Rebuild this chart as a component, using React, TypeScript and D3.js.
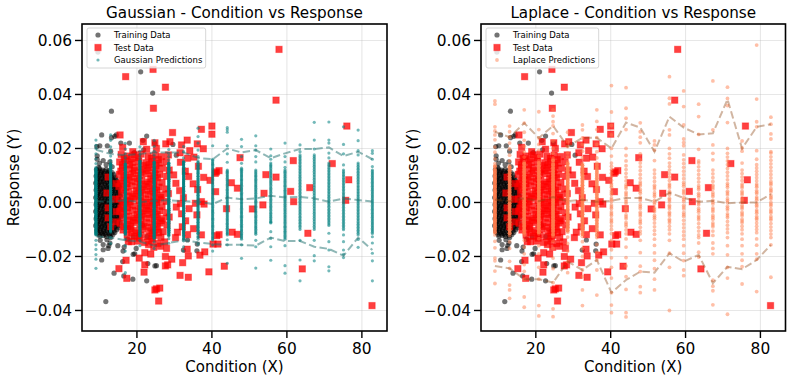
import React from "react";
import * as d3 from "d3";

// Y values are in thousandths (0.02 = 20)
const xTicks = [20, 40, 60, 80];
const yTicks = [-40, -20, 0, 20, 40, 60];
const yTickLabels = ["\u22120.04", "\u22120.02", "0.00", "0.02", "0.04", "0.06"];
const gridX = [9.07, 12.99, 16.9, 20.8, 24.6, 28.5, 32.45, 36.3, 40.2, 44.1, 47.9, 51.7, 55.7, 59.5, 63.5, 67.3, 71.2, 75.1, 79, 82.8];
// how many overlapping draws the dense part of each prediction column has
const denseLayers = [3, 3, 3, 3, 3, 3, 3, 2, 1, 1, 1, 1, 1, 1, 1, 1, 1, 1, 1, 1];

const trainingOutliers: number[][] = [
  [9.6,55.7],[21,48.4],[24.2,40.5],[13.2,33.8],[10.6,25],[13.2,24],[14.1,24.5],[14.5,25],[22.6,24.6],[9.3,20.7],[10.1,21],[12.1,21],[15.7,22],[18,22],[21.6,23],[24.7,22],[21.8,19.5],[29.6,21.5],[30.5,17.5],[9.4,17.3],[9.4,16],[11,15.5],[12.8,15],[10,14.5],[19.3,18.5],[13,19],[11.8,14],[13.4,13.2],[9.8,13],
  [11.7,-36.7],[13.9,-26.2],[16.5,-27.2],[18.9,-28.4],[22.6,-29],[24.8,-23.5],[25.2,-23.4],[22.9,-22.6],[16.2,-21.9],[10.6,-21.3],[19.4,-19],[19,-19.2],[19.8,-17],[16.3,-18],[16.6,-16.5],[14.9,-16],[12.3,-17],[11,-17.5],[12.8,-15],[12,-13.8],[10.2,-14],[11,-15.6],[33.5,-13.9],[36.1,-15.4],[32.4,-17.6],[12.5,-16],[13,-13],[17.5,-13.6],[36,-17.9]
];
const trainingBlob: number[][] = [
  [9.2,12.2],[10,12.5],[10.9,12],[11.8,12.3],[12.6,11.8],[9.5,11],[10.4,11.2],[11.2,10.8],[12.1,10.9],[13,10.6],[13.9,10.3],[9.1,9.8],[9.9,9.6],[10.7,9.9],[11.6,9.5],[12.5,9.7],[13.3,9.2],[14.2,9.4],
  [9.4,8.4],[10.2,8.6],[11.1,8.2],[12,8.5],[12.8,8.1],[13.7,8.3],[14.6,8],[9,7.2],[9.8,7],[10.6,7.3],[11.5,6.9],[12.4,7.2],[13.2,6.8],[14.1,7],[15,6.9],[9.3,5.8],[10.1,5.9],[11,5.6],[11.9,5.9],[12.7,5.5],[13.6,5.8],[14.5,5.5],[15.3,5.7],
  [9.1,4.6],[9.9,4.3],[10.8,4.6],[11.6,4.2],[12.5,4.5],[13.4,4.2],[14.2,4.5],[15.1,4.2],[9.5,3],[10.3,3.3],[11.2,2.9],[12.1,3.2],[12.9,2.9],[13.8,3.2],[14.7,2.9],[15.5,3.1],[9,1.8],[9.8,2],[10.7,1.6],[11.5,1.9],[12.4,1.6],[13.2,1.9],[14.1,1.6],[15,1.8],
  [9.4,.5],[10.2,.7],[11.1,.3],[12,.6],[12.8,.3],[13.7,.6],[14.6,.3],[15.4,.5],[9.1,-.8],[9.9,-.6],[10.8,-1],[11.6,-.7],[12.5,-1],[13.4,-.7],[14.2,-1],[15.1,-.7],[9.5,-2],[10.3,-1.9],[11.2,-2.3],[12.1,-2],[12.9,-2.3],[13.8,-2],[14.7,-2.3],[15.5,-2.1],
  [9,-3.3],[9.8,-3.2],[10.7,-3.6],[11.5,-3.3],[12.4,-3.6],[13.2,-3.3],[14.1,-3.6],[15,-3.3],[9.4,-4.7],[10.2,-4.5],[11.1,-4.9],[12,-4.6],[12.8,-4.9],[13.7,-4.6],[14.6,-4.9],[15.4,-4.7],[9.1,-6],[9.9,-5.8],[10.8,-6.2],[11.6,-5.9],[12.5,-6.2],[13.4,-5.9],[14.2,-6.2],[15.1,-6],
  [9.5,-7.3],[10.3,-7.1],[11.2,-7.5],[12.1,-7.2],[12.9,-7.5],[13.8,-7.2],[14.7,-7.5],[15.5,-7.3],[9,-8.6],[9.8,-8.4],[10.7,-8.8],[11.5,-8.5],[12.4,-8.8],[13.2,-8.5],[14.1,-8.8],[15,-8.6],[9.4,-9.9],[10.2,-9.7],[11.1,-10.1],[12,-9.8],[12.8,-10.1],[13.7,-9.8],[14.6,-10.1],
  [9.6,-11.2],[10.5,-11],[11.4,-11.4],[12.3,-11.1],[13.2,-11.4],[14.1,-11.1],[10.1,-12.4],[11,-12.2],[11.9,-12.6],[12.8,-12.3],[21.5,-8.5],[20.6,-11.8],[22.7,-12.6],[24.2,-10.4],[19,-12.7],[17.9,-9.3]
];
const trainingBlobExtra: number[][] = [
  [9.7,11.7],[10.6,11.6],[11.5,11.5],[12.4,11.2],[13.4,11.1],[9.4,10.3],[10.3,10.4],[11.2,10.1],[12.2,10.2],[13.1,9.9],[9.6,8.9],[10.6,8.9],[11.5,8.8],[12.5,8.9],[13.5,8.6],[14.4,8.7],
  [9.3,7.7],[10.2,7.7],[11.1,7.6],[12,7.7],[13,7.5],[13.9,7.6],[14.8,7.4],[9.6,6.4],[10.5,6.5],[11.5,6.3],[12.4,6.4],[13.3,6.3],[14.2,6.2],[15.2,6.3],[9.4,5.1],[10.4,5.2],[11.3,5],[12.2,5.1],[13.1,5],[14,5],[15,4.9],
  [9.6,3.8],[10.5,3.9],[11.5,3.6],[12.3,3.8],[13.3,3.6],[14.2,3.8],[15.1,3.6],[9.3,2.5],[10.2,2.6],[11.1,2.4],[12,2.5],[13,2.4],[13.9,2.5],[14.8,2.3],[15.6,2.4],[9.6,1.2],[10.5,1.2],[11.4,1],[12.3,1.2],[13.2,1.1],[14.1,1],[15.2,1.1],
  [9.3,-.1],[10.2,0],[11.2,-.3],[12,-.1],[13,-.3],[13.9,-.1],[14.8,-.3],[15.6,-.1],[9.6,-1.4],[10.5,-1.3],[11.4,-1.6],[12.3,-1.4],[13.2,-1.6],[14.1,-1.4],[15,-1.6],[9.3,-2.7],[10.2,-2.6],[11.1,-2.9],[12,-2.7],[13,-2.9],[13.9,-2.7],[14.8,-2.9],[15.7,-2.7],
  [9.6,-4],[10.5,-3.9],[11.4,-4.2],[12.3,-4],[13.2,-4.2],[14.1,-4],[15,-4.2],[9.3,-5.3],[10.2,-5.2],[11.1,-5.5],[12,-5.3],[13,-5.5],[13.9,-5.3],[14.8,-5.5],[15.7,-5.3],[9.6,-6.7],[10.5,-6.5],[11.4,-6.8],[12.3,-6.6],[13.2,-6.8],[14.1,-6.6],[15,-6.8],
  [9.3,-8],[10.2,-7.8],[11.1,-8.1],[12,-7.9],[13,-8.1],[13.9,-7.9],[14.8,-8.1],[9.6,-9.2],[10.5,-9.1],[11.4,-9.4],[12.3,-9.2],[13.2,-9.4],[14.1,-9.2],[15,-9.4],[9.3,-10.5],[10.2,-10.4],[11.1,-10.7],[12,-10.5],[13,-10.7],[13.9,-10.5],[9.9,-11.8],[10.8,-11.6],[11.7,-11.9],[12.7,-11.7],[13.6,-11.9]
];
const testOutliers: number[][] = [
  [57.9,56.7],[57.1,37.9],[24.3,49.3],[17,46.6],[27.6,42.7],[24.4,34.9],[37.2,27.1],[40,28.3],[40,25.3],[37.7,19.9],[76,28.3],[47.5,16.6],[61.7,15.5],[72.1,14.4],[76.5,8.4],[57.1,9.4],[54.4,10.3],[41.9,11.8],[41.2,11.3],[40.9,10.8],[39.5,8.2],[45.2,7.3],[46.8,5.3],[41,4],[53.9,3.4],[61,4.1],[66.1,5.5],[75.7,.8],[61.8,.3],[53.6,-.9],[50.8,-2.4],[43.9,-2.3],[37.2,.3],[37.9,-.6],[65.6,-11.4],[45.4,-11],[46.8,-11.8],[41.9,-11.9],[41.3,-12.3],[37.2,-12],[41.6,-15.4],[40.3,-15.4],[38.1,-18.3],[36.8,-19.5],[39.2,-25.7],[43.3,-23.6],[64.1,-24.6],[82.7,-38.2],
  [15.2,-24.5],[17.1,-21.4],[17.3,-28.1],[21.9,-25.8],[22.1,-23.1],[24.8,-32.4],[25.2,-32],[26.1,-31.7],[25.8,-36.5],[31.5,-27],[33.7,-27.7],[27.6,-23.5],[28.2,-23.1],[29.3,-21],[27.6,-20],[32.2,-22.3],[33.7,-19.8],[33.4,-17.3],[27.9,-17],[20.6,-20.6],[22.1,-18.6],[23.7,-19.1],[18.6,-14.5],[17.7,-14.5],
  [15.5,25],[29.5,25.9],[21.7,22.5],[24.8,22.1],[28.8,22.5],[27.7,21.7],[31.9,21.3],[33.4,23.1],[36.1,21.7],[16.2,20.4],[18.9,18.8],[22.6,19.7],[25.2,20],[31.5,18.4],[34.1,19.2],[33.5,16.4],
  [12.3,9.4],[12,3.5],[12.3,-2],[12.3,-5.7],[13,-9],[14.4,7],[14.2,1.2],[14.5,-3.4],[14.3,-7.2]
];
const testBlock: number[][] = [
  [15.8,17.8],[17.4,17.2],[19.3,17.6],[21.1,17.9],[23,17.1],[24.9,17.5],[26.6,17],[28.4,17.6],[35.2,16.8],
  [15.4,15],[17,15.4],[18.8,14.8],[20.5,15.3],[22.4,14.7],[24.1,15.2],[26,14.6],[27.8,15.1],[31.6,14.9],[36.4,13.4],
  [16.1,12.8],[17.9,12.4],[19.6,13],[21.4,12.3],[23.2,12.9],[25,12.2],[26.8,12.7],[28.6,12],[32.9,11.6],
  [15.3,10.4],[17.1,10.1],[18.9,10.7],[20.7,10],[22.5,10.6],[24.3,9.9],[26.1,10.4],[27.9,9.7],[29.8,10.2],[33.8,9.6],[37.8,9.3],
  [16,8],[17.8,8.3],[19.5,7.7],[21.3,8.2],[23.1,7.6],[24.9,8.1],[26.7,7.4],[30.4,7.1],[35,6.9],
  [15.2,5.9],[17,5.6],[18.7,6.1],[20.5,5.4],[22.3,5.9],[24.1,5.2],[25.9,5.7],[27.7,5],[31.4,4.4],[36.2,4.8],
  [15.9,3.4],[17.7,3.9],[19.4,3.2],[21.2,3.7],[23,3],[24.8,3.5],[26.6,2.8],[28.4,3.3],[32.4,1.8],
  [15.3,1.3],[17.1,.9],[18.8,1.5],[20.6,.8],[22.4,1.3],[24.2,.6],[26,1.1],[27.8,.4],[31.6,-.4],[35.6,-.3],
  [16,-1],[17.8,-.7],[19.5,-1.3],[21.3,-.7],[23.1,-1.3],[24.9,-.8],[26.7,-1.5],[30.5,-1.7],[33.9,-2.3],
  [15.4,-3.2],[17.2,-3.4],[18.9,-2.9],[20.7,-3.5],[22.5,-3],[24.3,-3.6],[26.1,-3.1],[27.9,-3.8],[31.9,-4.2],[36,-4.6],
  [16.1,-5.5],[17.9,-5.1],[19.6,-5.7],[21.4,-5.1],[23.2,-5.8],[25,-5.3],[26.8,-6],[28.6,-5.4],[33,-6.8],
  [15.5,-7.7],[17.3,-8],[19,-7.4],[20.8,-8],[22.6,-7.5],[24.4,-8.1],[26.2,-7.6],[28,-8.3],[32.1,-9],[35.1,-9.7],
  [16.3,-10.2],[18.1,-9.8],[19.8,-10.4],[21.6,-9.9],[23.4,-10.5],[25.2,-10],[27,-10.8],[30.8,-11],[33.5,-11.9],
  [17.4,-12.1],[19.3,-12.5],[21,-12.1],[22.8,-12.7],[24.6,-12.2],[26.4,-12.9],[30.3,-13],
  [20.2,-14.3],[22,-14.8],[23.8,-14.3],[25.6,-15.2],[27.4,-14.6],[24.5,-16.6],[26.3,-16.2]
];
const testBlockExtra: number[][] = [
  [16.6,16.3],[18.5,16.2],[20.3,16.6],[23.9,16.4],[25.7,15.9],
  [16.2,14],[18,13.9],[21.6,13.7],[23.3,14],[25.1,13.6],
  [15.7,11.6],[19.3,11.8],[21.1,11.2],[22.9,11.7],[24.7,11],
  [16.5,9.2],[18.3,9.4],[20.1,8.9],[23.7,8.8],[25.5,9.2],
  [15.6,7],[17.4,6.9],[20.9,6.8],[22.7,6.8],[24.5,6.6],
  [16.3,4.6],[19.9,4.4],[21.7,4.6],[23.5,4.2],[25.3,4.6],
  [17.4,2.4],[19.1,2.2],[20.9,2.3],[24.5,2.1],[26.3,1.9],
  [16.4,.1],[18.2,.3],[21.7,.1],[23.5,.1],[25.3,0],
  [15.7,-2.1],[17.5,-2],[21,-2.1],[22.8,-2.2],[24.6,-2.2],
  [16.4,-4.3],[20,-4.4],[21.8,-4.3],[23.6,-4.4],[25.4,-4.4],
  [17.6,-6.5],[19.3,-6.6],[21.1,-6.5],[24.7,-6.7],[26.5,-6.8],
  [16.6,-9],[18.4,-8.8],[21.9,-8.9],[23.7,-9.2],[25.5,-9],
  [18.6,-11.2],[20.4,-11.3],[24,-11.5],[25.8,-11.2],
  [20.6,-13.2],[24.2,-13.3],[23.1,-15.6]
];

const gaussianColumns: number[][] = [
  [23.1,21.2,20,18,16.2,14.4,13,12,11.2,10.5,9.8,9,8.3,7.5,6.8,6,5.2,4.5,3.8,3,2.3,1.5,.8,0,-.8,-1.5,-2.3,-3,-3.8,-4.5,-5.3,-6,-6.8,-7.6,-8.3,-9,-9.8,-10.6,-11.4,-12,-14,-15.7,-17.4,-19.3,-21,-24.4],
  [25,23,20.6,19,17.2,15.6,14.6,13.8,13,12.2,11.4,10.6,9.9,9.1,8.3,7.6,6.8,6.1,5.3,4.6,3.8,3,2.3,1.5,.7,0,-.8,-1.6,-2.3,-3.1,-3.9,-4.6,-5.4,-6.2,-7,-7.7,-8.5,-9.3,-10.1,-11,-13,-15.2],
  [21.9,19.8,18,16.6,15.4,14.5,13.7,12.9,12.1,11.4,10.6,9.8,9,8.2,7.5,6.7,6,5.2,4.4,3.6,2.9,2.1,1.3,.6,-.2,-1,-1.8,-2.5,-3.3,-4.1,-4.9,-5.6,-6.4,-7.2,-8,-8.8,-9.5,-10.3,-11.1,-12,-13.6,-15.9,-18,-26],
  [20.6,19,17.7,16.6,15.6,14.8,14,13.2,12.4,11.6,10.8,10,9.2,8.5,7.7,6.9,6.1,5.4,4.6,3.8,3,2.3,1.5,.7,-.1,-.9,-1.6,-2.4,-3.2,-4,-4.7,-5.5,-6.3,-7.1,-7.9,-8.6,-9.4,-10.2,-11,-11.8,-12.6,-14,-16],
  [23,20.8,19,17.5,16.2,15.2,14.4,13.6,12.8,12,11.2,10.4,9.6,8.8,8,7.2,6.5,5.7,4.9,4.1,3.3,2.5,1.8,1,.2,-.6,-1.4,-2.2,-2.9,-3.7,-4.5,-5.3,-6.1,-6.9,-7.7,-8.5,-9.3,-10.1,-10.9,-11.7,-12.5,-13.4,-14.6,-17],
  [19.6,18.2,17,15.8,14.8,14,13.2,12.3,11.5,10.6,9.8,9,8.2,7.4,6.5,5.7,4.9,4.1,3.2,2.4,1.6,.8,0,-.9,-1.7,-2.5,-3.3,-4.1,-5,-5.8,-6.6,-7.4,-8.2,-9.1,-9.9,-10.7,-11.5,-12.4,-13.4,-15.1],
  [20.7,18.8,16.5,15.3,14.4,13.5,12.6,11.7,10.8,9.9,9,8.1,7.2,6.3,5.4,4.5,3.6,2.7,1.8,.9,0,-.9,-1.8,-2.7,-3.6,-4.5,-5.4,-6.3,-7.2,-8.1,-9,-9.9,-10.8,-11.7,-12.8,-14.2,-16.4,-18],
  [27.5,24.4,22,19.4,17,15.4,14.2,13.2,12.2,11.2,10.2,9.2,8.2,7.2,6.2,5.2,4.2,3.2,2.2,1.2,.2,-.8,-1.8,-2.8,-3.8,-4.8,-5.8,-6.8,-7.8,-8.8,-9.8,-10.8,-12,-13.6,-15.4],
  [21,16,15.6,14.6,13.8,12.8,12,11.1,10.2,9.4,8.5,7.6,6.8,5.9,5,4.2,3.3,2.4,1.6,.7,-.2,-1,-1.9,-2.8,-3.6,-4.5,-5.4,-6.2,-7.1,-8,-8.8,-9.7,-10.6,-11.4,-12.3,-13.2,-13.9,-15.7,-18],
  [27.7,26.9,26,21,18,14.9,12,11.2,10.3,9.4,8.5,7.6,6.7,5.8,4.9,4,3.1,2.2,1.3,.4,-.5,-1.4,-2.3,-3.2,-4.1,-5,-5.9,-6.8,-7.7,-8.6,-9.5,-10.4,-11.3,-12,-13.8,-15.7,-22.5],
  [23.4,20.7,17,14.5,12.7,11.9,11.1,10.2,9.4,8.5,7.7,6.8,6,5.1,4.3,3.4,2.6,1.7,.9,0,-.8,-1.7,-2.5,-3.4,-4.2,-5.1,-5.9,-6.8,-7.6,-8.5,-9.3,-10.2,-11,-11.9,-12.7,-13.6,-15.7,-20.7],
  [24.7,21,19.4,17,15,12,11,10,9.1,8.1,7.2,6.2,5.3,4.3,3.4,2.4,1.5,.5,-.4,-1.4,-2.3,-3.3,-4.2,-5.2,-6.1,-7.1,-8,-9,-9.9,-10.9,-11.8,-14,-16.4,-24.3],
  [19.8,17.3,16,14.6,13.6,12.6,11.5,10.5,9.5,8.4,7.4,6.4,5.3,4.3,3.3,2.2,1.2,.2,-.9,-1.9,-2.9,-4,-5,-6,-7,-7.6,-10.8,-13.3,-16.4,-21.4],
  [22,17,15,13,12.1,11.2,10.2,9.3,8.3,7.4,6.4,5.5,4.5,3.6,2.6,1.7,.7,-.2,-1.2,-2.1,-3.1,-4,-5,-5.9,-6.9,-7.8,-8.8,-9.7,-10.7,-11.6,-12.6,-13.6,-16,-23.4,-26.2],
  [21.3,18.8,17.6,16.5,15.4,14.3,13.2,12.1,11,9.9,8.8,7.7,6.6,5.5,4.4,3.3,2.2,1.1,0,-1.1,-2.2,-3.3,-4.4,-5.5,-6.6,-7.7,-8.8,-10,-14,-21.3,-29],
  [29.7,23.1,19.8,17.6,16.4,15.2,14,12.8,11.6,10.4,9.2,8,6.8,5.6,4.4,3.2,2,.8,-.4,-1.6,-2.8,-4,-5.2,-6.4,-7.6,-8.8,-10,-14,-19.7,-21.6],
  [29.8,23.1,22,18.3,16.5,14.6,13.5,12.4,11.3,10.2,9.1,8,6.9,5.8,4.7,3.6,2.5,1.4,.3,-.8,-1.9,-3,-4.1,-5.2,-6.3,-7.4,-8.5,-11.4,-14.5,-17.6,-23.8,-25.3],
  [28,21.5,18,13.9,12,10.9,9.8,8.7,7.6,6.5,5.4,4.3,3.2,2.1,1,-.1,-1.2,-2.3,-3.4,-4.5,-5.6,-6.7,-7.8,-8.9,-10.1,-12,-14.5,-17.6,-19.2,-20.4],
  [26.8,22.9,19.2,17.6,14.6,13.4,12.3,11.2,10.1,9,7.9,6.8,5.7,4.6,3.5,2.4,1.3,.2,-.9,-2,-3.1,-4.2,-5.3,-6.4,-7.5,-8.6,-9.7,-10.8,-12,-13.7,-16.6],
  [19.2,18.2,16,13.3,12,11,10,9,8,7,6,5,4,3,2,1,0,-1,-2,-3,-4,-5,-6,-7,-8,-9,-10,-11,-12.7,-15,-18.8,-21.6,-29]
];
const gaussianFill: number[][] = [
  [12.4,11.6,10.9,10.2,9.4,8.7,7.9,7.2,6.4,5.6,4.9,4.1,3.4,2.6,1.9,1.1,.4,-.4,-1.1,-1.9,-2.6,-3.4,-4.1,-4.9,-5.6,-6.4,-7.2,-8,-8.7,-9.4,-10.2,-11,-11.7],
  [14.2,13.4,12.6,11.8,11,10.3,9.5,8.7,8,7.2,6.5,5.7,4.9,4.2,3.4,2.7,1.9,1.1,.3,-.4,-1.2,-2,-2.7,-3.5,-4.3,-5,-5.8,-6.6,-7.4,-8.1,-8.9,-9.7,-10.5],
  [14.1,13.3,12.5,11.8,11,10.2,9.4,8.6,7.9,7.1,6.4,5.6,4.8,4,3.3,2.5,1.7,1,.2,-.6,-1.4,-2.1,-2.9,-3.7,-4.5,-5.2,-6,-6.8,-7.6,-8.4,-9.1,-9.9,-10.7,-11.5],
  [15.2,14.4,13.6,12.8,12,11.2,10.4,9.6,8.9,8.1,7.3,6.5,5.8,5,4.2,3.4,2.7,1.9,1.1,.3,-.5,-1.2,-2,-2.8,-3.6,-4.3,-5.1,-5.9,-6.7,-7.5,-8.2,-9,-9.8,-10.6,-11.4,-12.2],
  [14.8,14,13.2,12.4,11.6,10.8,10,9.2,8.4,7.6,6.9,6.1,5.3,4.5,3.7,2.9,2.2,1.4,.6,-.2,-1,-1.8,-2.5,-3.3,-4.1,-4.9,-5.7,-6.5,-7.3,-8.1,-8.9,-9.7,-10.5,-11.3,-12.1,-13],
  [14.4,13.6,12.7,11.9,11,10.2,9.4,8.6,7.8,6.9,6.1,5.3,4.5,3.6,2.8,2,1.2,.4,-.5,-1.3,-2.1,-2.9,-3.7,-4.6,-5.4,-6.2,-7,-7.8,-8.7,-9.5,-10.3,-11.1,-12],
  [14.9,14,13,12.2,11.2,10.4,9.5,8.6,7.7,6.8,5.9,5,4.1,3.2,2.3,1.4,.5,-.4,-1.3,-2.2,-3.1,-4,-4.9,-5.8,-6.7,-7.6,-8.5,-9.4,-10.3,-11.2,-12.2,-13.4],
  [14.8,13.7,12.7,11.7,10.7,9.7,8.7,7.7,6.7,5.7,4.7,3.7,2.7,1.7,.7,-.3,-1.3,-2.3,-3.3,-4.3,-5.3,-6.3,-7.3,-8.3,-9.3,-10.3,-11.4,-12.8],
  [15.1,14.2,13.3,12.4,11.5,10.6,9.8,8.9,8.1,7.2,6.4,5.5,4.6,3.7,2.9,2,1.2,.3,-.6,-1.5,-2.4,-3.2,-4,-4.9,-5.8,-6.6,-7.5,-8.4,-9.2,-10.1,-11,-11.8,-12.7,-13.5],
  [11.6,10.8,9.9,9,8.1,7.2,6.3,5.4,4.5,3.6,2.7,1.8,.9,0,-.9,-1.8,-2.7,-3.6,-4.5,-5.4,-6.3,-7.2,-8.1,-9,-9.9,-10.8,-11.6],
  [12.3,11.5,10.6,9.8,8.9,8.1,7.2,6.4,5.5,4.7,3.8,3,2.1,1.3,.4,-.4,-1.3,-2.1,-3,-3.8,-4.7,-5.5,-6.4,-7.2,-8.1,-8.9,-9.8,-10.6,-11.5,-12.3,-13.2],
  [11.5,10.5,9.6,8.6,7.7,6.7,5.8,4.8,3.9,2.9,2,1,.1,-.9,-1.8,-2.8,-3.7,-4.7,-5.6,-6.6,-7.5,-8.5,-9.4,-10.4,-11.3],
  [14,13.1,12,11,10,9,7.9,6.9,5.8,4.8,3.8,2.7,1.7,.7,-.4,-1.4,-2.4,-3.5,-4.5,-5.5,-6.5,-7.3],
  [11.6,10.7,9.8,8.8,7.9,6.9,6,5,4.1,3.1,2.2,1.2,.3,-.7,-1.6,-2.6,-3.5,-4.5,-5.4,-6.4,-7.3,-8.3,-9.2,-10.2,-11.1,-12.1,-13.1],
  [17,15.9,14.8,13.7,12.6,11.5,10.4,9.3,8.2,7.1,6,4.9,3.8,2.7,1.6,.5,-.6,-1.7,-2.8,-3.9,-5,-6.1,-7.2,-8.3,-9.4],
  [17,15.8,14.6,13.4,12.2,11,9.8,8.6,7.4,6.2,5,3.8,2.6,1.4,.2,-1,-2.2,-3.4,-4.6,-5.8,-7,-8.2,-9.4],
  [14,12.9,11.8,10.7,9.6,8.5,7.4,6.3,5.2,4.1,3,1.9,.8,-.3,-1.4,-2.5,-3.6,-4.7,-5.8,-6.9,-8],
  [11.4,10.3,9.2,8.1,7,5.9,4.8,3.7,2.6,1.5,.4,-.7,-1.8,-2.9,-4,-5.1,-6.2,-7.3,-8.4,-9.5],
  [14,12.8,11.7,10.6,9.5,8.4,7.3,6.2,5.1,4,2.9,1.8,.7,-.4,-1.5,-2.6,-3.7,-4.8,-5.9,-7,-8.1,-9.2,-10.3,-11.4],
  [11.5,10.5,9.5,8.5,7.5,6.5,5.5,4.5,3.5,2.5,1.5,.5,-.5,-1.5,-2.5,-3.5,-4.5,-5.5,-6.5,-7.5,-8.5,-9.5,-10.5,-11.5]
];
const gaussianUpper = [19.5, 18, 17.5, 18, 18.5, 18.5, 18.5, 16.5, 16, 20, 18.5, 19.4, 16.4, 18.2, 19.8, 19.8, 20.4, 17.2, 18.8, 16];
const gaussianMiddle = [.5, .3, .8, .2, .6, .8, .5, .3, -.6, 1.8, 1.2, 1.5, 2.5, 1.8, 2.1, 1.5, .3, 1.5, .9, .4];
const gaussianLower = [-12.5, -13, -14, -14.5, -16, -15, -14, -14.8, -15.4, -15.7, -15.7, -16, -13, -14.3, -14.3, -16.4, -17.2, -19.7, -13, -17.6];

const laplaceColumns: number[][] = [
  [37.6,36.4,28,26.5,25,23.2,20.5,18.6,16.2,14.4,12.5,11.5,10.5,9.6,8.7,7.8,6.9,6,5,4.2,3.3,2.4,1.5,.6,-.3,-1.2,-2.1,-3,-3.9,-4.8,-5.7,-6.6,-7.5,-8.4,-9.3,-10.3,-12,-14.4,-16.8,-20.6,-21.6,-25.4,-30],
  [28.3,26.2,24.2,22,19.8,17.5,15.4,13.6,12.4,11.2,10.2,9.2,8.2,7.2,6.2,5.2,4.2,3.2,2.2,1.2,.2,-.8,-1.8,-2.8,-3.8,-4.8,-5.8,-6.8,-7.8,-8.8,-9.8,-10.8,-12.2,-14.6,-17,-21.8,-24.4,-30.6,-32.4,-35.5],
  [34.3,29.4,26,23,20.8,18.7,16.8,15,13.8,12.7,11.6,10.6,9.6,8.6,7.6,6.6,5.6,4.6,3.6,2.6,1.6,.6,-.4,-1.4,-2.4,-3.4,-4.4,-5.4,-6.4,-7.4,-8.4,-9.4,-10.5,-12,-14,-16.5,-19,-23,-25.5,-28.4,-35,-38.8],
  [33.6,27,23.9,21.5,19.3,17.2,15.4,14,12.8,11.6,10.6,9.6,8.6,7.6,6.6,5.6,4.6,3.6,2.6,1.6,.6,-.4,-1.4,-2.4,-3.4,-4.4,-5.4,-6.4,-7.4,-8.4,-9.4,-10.4,-11.6,-13.4,-16,-19,-24,-28.4,-38.2,-42],
  [34.3,32,29.9,28.4,25.5,22.8,20,18.2,16.4,14.8,13.4,12.2,11.1,10,9,8,7,6,5,4,3,2,1,0,-1,-2,-3,-4,-5,-6,-7,-8,-9,-10,-11.2,-12.6,-14.4,-17,-20.6,-24.5,-29.7,-39.4,-42.3],
  [26,22.5,20.7,18.4,16.8,15,13.6,12.4,11.2,10,8.9,7.8,6.7,5.6,4.5,3.4,2.3,1.2,.1,-1,-2.1,-3.2,-4.3,-5.4,-6.5,-7.6,-8.7,-9.8,-11,-12.8,-15.2,-18,-21.9,-26],
  [28.7,26.9,23.9,21.5,19,16.5,14.4,13,11.8,10.6,9.4,8.2,7,5.8,4.6,3.4,2.2,1,-.2,-1.4,-2.6,-3.8,-5,-6.2,-7.4,-8.6,-9.8,-11,-12.5,-14.5,-17,-20,-25,-27.5,-32.4,-38.2],
  [34.3,30,27,24,21.5,18.8,16.5,14.6,13.2,12,10.8,9.6,8.4,7.2,6,4.8,3.6,2.4,1.2,0,-1.2,-2.4,-3.6,-4.8,-6,-7.2,-8.4,-9.6,-11,-13,-15.6,-18.5,-21.3,-25,-34.3],
  [43.3,33.5,28.5,25,20,17.2,14.6,13.4,12.1,10.8,9.5,8.2,6.9,5.6,4.3,3,1.7,.4,-.9,-2.2,-3.5,-4.8,-6.1,-7.4,-8.7,-10,-11.5,-14,-17.5,-20.5,-24,-28,-33.4,-38,-40.8],
  [42.5,34.9,31.2,27,20,17.4,15.4,13.6,12.2,10.8,9.4,8,6.6,5.2,3.8,2.4,1,-.4,-1.8,-3.2,-4.6,-6,-7.4,-8.8,-10.2,-11.6,-13.5,-16.5,-20.4,-23.5,-27.5,-32.2,-40.8,-42.4],
  [29.5,26.2,24.2,22.1,18,15.8,14.6,13.2,11.8,10.4,9,7.6,6.2,4.8,3.4,2,.6,-.8,-2.2,-3.6,-5,-6.4,-7.8,-9.2,-10.6,-11.6,-14,-18.6,-23.6,-25.6,-31.2,-33.4],
  [22.8,21.3,19.4,15.5,12,10.6,9.2,7.8,6.4,5,3.6,2.2,.8,-.6,-2,-3.4,-4.8,-6.2,-7.6,-9,-10.4,-11.8,-13.6,-15.9,-18.7,-21.4,-24.5,-28.4,-32.4],
  [46.6,38.6,36.5,26.9,25,20,18,16.4,14.6,13.3,12,10.7,9.4,8.1,6.8,5.5,4.2,2.9,1.6,.3,-1,-2.3,-3.6,-4.9,-6.2,-7.5,-8.8,-10.1,-11.6,-14,-18.8,-24,-40],
  [41.3,35.5,28.7,23.5,22.2,21,17.6,15.8,14.4,13,11.6,10.2,8.8,7.4,6,4.6,3.2,1.8,.4,-1,-2.4,-3.8,-5.2,-6.6,-8,-9.4,-10.8,-12.2,-13.6,-16,-18.8,-21.5,-25,-27.1],
  [36.4,31.8,25.2,19.7,15.4,14.6,13.2,11.8,10.4,9,7.6,6.2,4.8,3.4,2,.6,-.8,-2.2,-3.6,-5,-6.4,-7.8,-9.2,-10.6,-12,-13,-15,-18.4,-20.2],
  [45,26.9,21.3,18.2,15.8,12,10.6,9.2,7.8,6.4,5,3.6,2.2,.8,-.6,-2,-3.4,-4.8,-6.2,-7.6,-9,-10.6,-12.2,-15,-17,-19,-28.8,-31,-32.7,-37.9],
  [42.7,38.5,35.9,29.6,20,18.2,16.8,15.4,14,12.6,11.2,9.8,8.4,7,5.6,4.2,2.8,1.4,0,-1.4,-2.8,-4.2,-5.6,-7,-8.4,-9.8,-11.2,-13,-16,-19.4,-24,-28,-41.4],
  [22.8,20.2,19,14.6,12,10.7,9.4,8.1,6.8,5.5,4.2,2.9,1.6,.3,-1,-2.3,-3.6,-4.9,-6.2,-7.5,-8.8,-10.1,-11.6,-13.6,-16,-19,-21.4,-23.8,-30.2],
  [58.3,38.3,29.9,28,19.2,16,14,12.8,11.6,10.4,9.2,8,6.8,5.6,4.4,3.2,2,.8,-.4,-1.6,-2.8,-4,-5.2,-6.4,-7.6,-8.8,-10,-11.2,-13.5,-15.8,-19,-21,-33],
  [31.6,29,25.4,23.5,18.8,18.3,16.9,15.6,14.3,13,11.7,10.4,9.1,7.8,6.5,5.2,3.9,2.6,1.3,0,-1.3,-2.6,-3.9,-5.2,-6.5,-7.8,-9.1,-10.4,-11.7,-13,-15.7,-27.7]
];
const laplaceFill: number[][] = [
  [13.4,12,11,10,9.2,8.2,7.4,6.4,5.6,4.6,3.8,2.8,2,1,.2,-.8,-1.6,-2.6,-3.4,-4.4,-5.2,-6.2,-7,-8,-8.8,-9.8,-11],
  [13,11.8,10.7,9.7,8.7,7.7,6.7,5.7,4.7,3.7,2.7,1.7,.7,-.3,-1.3,-2.3,-3.3,-4.3,-5.3,-6.3,-7.3,-8.3,-9.3,-10.3,-11.4],
  [14.4,13.2,12.1,11.1,10.1,9.1,8.1,7.1,6.1,5.1,4.1,3.1,2.1,1.1,.1,-.9,-1.9,-2.9,-3.9,-4.9,-5.9,-6.9,-7.9,-8.9,-10,-11.2],
  [14.6,13.4,12.2,11.1,10.1,9.1,8.1,7.1,6.1,5.1,4.1,3.1,2.1,1.1,.1,-.9,-1.9,-2.9,-3.9,-4.9,-5.9,-6.9,-7.9,-8.9,-9.9,-11],
  [15.6,14.1,12.8,11.6,10.5,9.5,8.5,7.5,6.5,5.5,4.5,3.5,2.5,1.5,.5,-.5,-1.5,-2.5,-3.5,-4.5,-5.5,-6.5,-7.5,-8.5,-9.5,-10.6,-11.9],
  [14.3,13,11.8,10.6,9.4,8.3,7.2,6.1,5,3.9,2.8,1.7,.6,-.5,-1.6,-2.7,-3.8,-4.9,-6,-7.1,-8.2,-9.3,-10.4],
  [13.7,12.4,11.2,10,8.8,7.6,6.4,5.2,4,2.8,1.6,.4,-.8,-2,-3.2,-4.4,-5.6,-6.8,-8,-9.2,-10.4,-11.7],
  [13.9,12.6,11.4,10.2,9,7.8,6.6,5.4,4.2,3,1.8,.6,-.6,-1.8,-3,-4.2,-5.4,-6.6,-7.8,-9,-10.3,-12],
  [6.2,3.6,1,-1.6,-4.2,-6.8],
  [5.9,3.1,.3,-2.5,-5.3,-8.1],
  [6.9,4.1,1.3,-1.5,-4.3,-7.1],
  [5.7,2.9,.1,-2.7,-5.5],
  [6.2,3.6,1,-1.6,-4.2,-6.8],
  [6.7,3.9,1.1,-1.7,-4.5],
  [5.5,2.7,-.1,-2.9,-5.7],
  [5.7,2.9,.1,-2.7,-5.5,-8.3],
  [6.3,3.5,.7,-2.1,-4.9],
  [6.1,3.5,.9,-1.7,-4.3,-6.9],
  [6.2,3.8,1.4,-1,-3.4,-5.8],
  [7.1,4.5,1.9,-.7,-3.3,-5.9]
];
const laplaceUpper = [26.2, 24.2, 29.4, 23.9, 28.4, 20.7, 23.9, 24, 20, 29.6, 27.7, 18.8, 31.8, 27.7, 25.2, 25.6, 38.2, 20, 28, 29];
const laplaceMiddle = [1, .5, 1.5, .5, 2, .5, 1, .3, .6, 1.7, 1.7, .3, 3.6, 1.7, .3, .6, -.3, 0, 0, 3.1];
const laplaceLower = [-23.5, -24.4, -28.4, -28.4, -29.7, -21.9, -25, -21.3, -33.4, -28.7, -25.6, -26, -18.8, -21.9, -19.4, -29.9, -23.8, -24.7, -21.3, -15.7];

const FONT = "'DejaVu Sans', sans-serif";

type PanelProps = {
  left: number; right: number; name: string; color: string; predR: number; predOpacity: number;
  columns: number[][]; fill: number[][]; bands: number[][]; dash: string; dashOpacity: number; legendRight: number;
};

function Panel({ left, right, name, color, predR, predOpacity, columns, fill, bands, dash, dashOpacity, legendRight }: PanelProps) {
  const top = 24, bottom = 331;
  const x = d3.scaleLinear().domain([5.35, 86.7]).range([left, right]);
  const y = d3.scaleLinear().domain([-47.6, 66.1]).range([bottom, top]);
  const line = d3.line<number>().x((_, i) => x(gridX[i])).y((d) => y(d));
  const cx = (left + right) / 2;
  const legL = left + 5, legT = 28;
  const rows = [35, 47.5, 60];
  const training = [...trainingOutliers, ...trainingBlob, ...trainingBlobExtra];
  const test = [...testOutliers, ...testBlock, ...testBlockExtra];
  const allColumns = columns.map((c, i) => [...c, ...d3.merge<number>(d3.range(denseLayers[i]).map(() => fill[i]))]);
  return (
    <g fontFamily={FONT} fill="#000">
      {xTicks.map((t) => <line key={t} x1={x(t)} x2={x(t)} y1={top} y2={bottom} stroke="#b0b0b0" strokeOpacity={0.3} strokeWidth={1.1} />)}
      {yTicks.map((t) => <line key={t} x1={left} x2={right} y1={y(t)} y2={y(t)} stroke="#b0b0b0" strokeOpacity={0.3} strokeWidth={1.1} />)}
      {training.map((d, i) => <circle key={i} cx={x(d[0])} cy={y(d[1])} r={2.6} fill="#000" fillOpacity={0.55} />)}
      {test.map((d, i) => <rect key={i} x={x(d[0]) - 3.2} y={y(d[1]) - 3.2} width={6.4} height={6.4} fill="#ff0000" fillOpacity={0.75} stroke="#ff0000" strokeOpacity={0.35} strokeWidth={1} />)}
      {allColumns.map((col, i) => col.map((v, j) => <circle key={i + "-" + j} cx={x(gridX[i])} cy={y(v)} r={predR} fill={color} fillOpacity={predOpacity} />))}
      {bands.map((b, i) => <path key={i} d={line(b) || ""} fill="none" stroke={dash} strokeOpacity={dashOpacity} strokeWidth={2} strokeDasharray="7.5 3.4" />)}
      <rect x={left} y={top} width={right - left} height={bottom - top} fill="none" stroke="#000" strokeWidth={1.6} />
      {xTicks.map((t) => (
        <g key={t}>
          <line x1={x(t)} x2={x(t)} y1={bottom} y2={bottom + 7} stroke="#000" strokeWidth={1.4} />
          <text x={x(t)} y={bottom + 22.5} fontSize={15.4} textAnchor="middle">{t}</text>
        </g>
      ))}
      {yTicks.map((t, i) => (
        <g key={t}>
          <line x1={left - 7} x2={left} y1={y(t)} y2={y(t)} stroke="#000" strokeWidth={1.4} />
          <text x={left - 10} y={y(t) + 5.6} fontSize={15.4} textAnchor="end">{yTickLabels[i]}</text>
        </g>
      ))}
      <text x={cx} y={18} fontSize={15.2} textAnchor="middle">{name} - Condition vs Response</text>
      <text x={cx} y={372} fontSize={15} textAnchor="middle">Condition (X)</text>
      <text transform={`translate(${left - 63},${(top + bottom) / 2}) rotate(-90)`} fontSize={15} textAnchor="middle">Response (Y)</text>
      <rect x={legL} y={legT} width={legendRight - legL} height={40} rx={2} fill="#fff" fillOpacity={0.8} stroke="#ccc" strokeWidth={0.8} />
      <circle cx={legL + 11} cy={rows[0]} r={2.6} fill="#000" fillOpacity={0.55} />
      <rect x={legL + 7.8} y={rows[1] - 3.2} width={6.4} height={6.4} fill="#ff0000" fillOpacity={0.75} stroke="#ff0000" strokeOpacity={0.35} strokeWidth={1} />
      <circle cx={legL + 11} cy={rows[2]} r={predR} fill={color} fillOpacity={predOpacity} />
      <text x={legL + 27} y={rows[0] + 3} fontSize={8.5}>Training Data</text>
      <text x={legL + 27} y={rows[1] + 3} fontSize={8.5}>Test Data</text>
      <text x={legL + 27} y={rows[2] + 3} fontSize={8.5}>{name} Predictions</text>
    </g>
  );
}

export default function App() {
  return (
    <svg width={792} height={382} viewBox="0 0 792 382" style={{ position: "absolute", left: 0, top: 0, background: "#fff" }}>
      <Panel left={82} right={387} name="Gaussian" color="#008080" predR={1.6} predOpacity={0.55} columns={gaussianColumns} fill={gaussianFill}
        bands={[gaussianUpper, gaussianMiddle, gaussianLower]} dash="#1f6f6d" dashOpacity={0.5} legendRight={205.7} />
      <Panel left={481} right={785.5} name="Laplace" color="#ff7f50" predR={1.9} predOpacity={0.5} columns={laplaceColumns} fill={laplaceFill}
        bands={[laplaceUpper, laplaceMiddle, laplaceLower]} dash="#8b4513" dashOpacity={0.4} legendRight={598.7} />
    </svg>
  );
}
